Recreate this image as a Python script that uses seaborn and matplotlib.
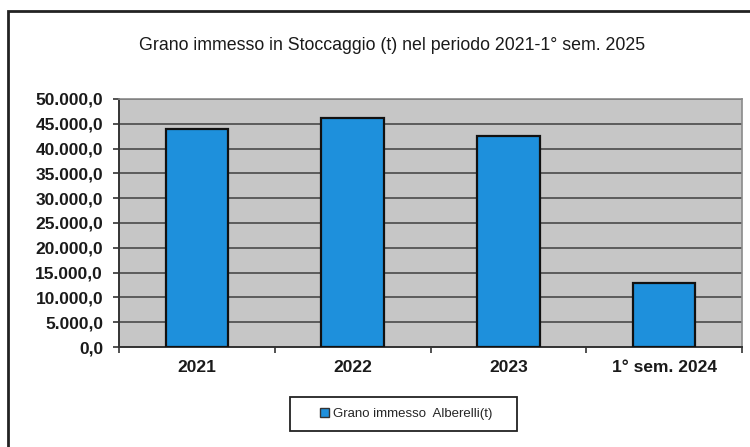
import matplotlib
matplotlib.use("Agg")
import matplotlib.pyplot as plt
from matplotlib.ticker import FuncFormatter, MultipleLocator, FixedLocator
from matplotlib.patches import Rectangle, Patch
import seaborn as sns
import pandas as pd

categories = ["2021", "2022", "2023", "1° sem. 2024"]
values = [44000.0, 46200.0, 42500.0, 13000.0]
series_label = "Grano immesso  Alberelli(t)"
title = "Grano immesso in Stoccaggio (t) nel periodo 2021-1° sem. 2025"

sns.set_theme(style="white")
plt.rcParams["font.family"] = ["Liberation Sans", "DejaVu Sans"]

df = pd.DataFrame({"periodo": categories, "grano": values})

fig = plt.figure(figsize=(7.5, 4.47), dpi=100)
fig.patch.set_facecolor("white")
ax = fig.add_axes([119 / 750, 1 - 347 / 447, 623 / 750, 248 / 447])
ax.set_facecolor("#c6c6c6")

sns.barplot(data=df, x="periodo", y="grano", ax=ax, width=0.4,
            color="#1e90dc", saturation=1, edgecolor="#111111",
            linewidth=1.6, zorder=3)

ax.set_ylim(0, 50000)
ax.set_xlim(-0.5, len(categories) - 0.5)
ax.yaxis.set_major_locator(MultipleLocator(5000))


def it_fmt(v, _):
    s = f"{v:,.1f}"
    return s.replace(",", "X").replace(".", ",").replace("X", ".")


ax.yaxis.set_major_formatter(FuncFormatter(it_fmt))
ax.grid(axis="y", color="#4a4a4a", linewidth=1.2, zorder=1)
ax.set_axisbelow(True)

# category boundary ticks on the x axis
ax.xaxis.set_minor_locator(FixedLocator([i - 0.5 for i in range(len(categories) + 1)]))
ax.tick_params(axis="x", which="major", length=0, pad=9, labelsize=12.5)
ax.tick_params(axis="x", which="minor", length=4.5, width=1.2, color="#333333",
               direction="out", bottom=True)
ax.tick_params(axis="y", which="major", length=4.5, width=1.2, color="#333333",
               direction="out", left=True, pad=7, labelsize=12.5)
for lab in ax.get_xticklabels() + ax.get_yticklabels():
    lab.set_color("#1a1a1a")
    lab.set_fontweight("bold")

ax.set_xlabel("")
ax.set_ylabel("")
for side in ["top", "right"]:
    ax.spines[side].set_color("#8a8a8a")
    ax.spines[side].set_linewidth(1.2)
for side in ["left", "bottom"]:
    ax.spines[side].set_color("#333333")
    ax.spines[side].set_linewidth(1.4)

fig.text(392 / 750, 1 - 45 / 447, title, ha="center", va="center",
         fontsize=12.8, color="#1a1a1a")

# legend box and its single entry
fig.add_artist(Rectangle((290 / 750, 1 - 431 / 447), 227 / 750, 34 / 447,
                         transform=fig.transFigure, fill=True,
                         facecolor="white", edgecolor="#222222",
                         linewidth=1.3, zorder=2))
handle = Patch(facecolor="#1e90dc", edgecolor="#333333", linewidth=1)
leg = fig.legend([handle], [series_label], loc="center",
                 bbox_to_anchor=(406 / 750, 1 - 414 / 447),
                 prop={"size": 9.5}, frameon=False,
                 handlelength=0.7, handleheight=0.7, handletextpad=0.25,
                 borderpad=0.2, borderaxespad=0)
leg.set_zorder(3)

# outer frame of the chart
fig.add_artist(Rectangle((8 / 750, -0.05), 1.0, 1 - 11 / 447 + 0.05,
                         transform=fig.transFigure, fill=False,
                         edgecolor="#222222", linewidth=2))

fig.savefig("out.png", dpi=100)
